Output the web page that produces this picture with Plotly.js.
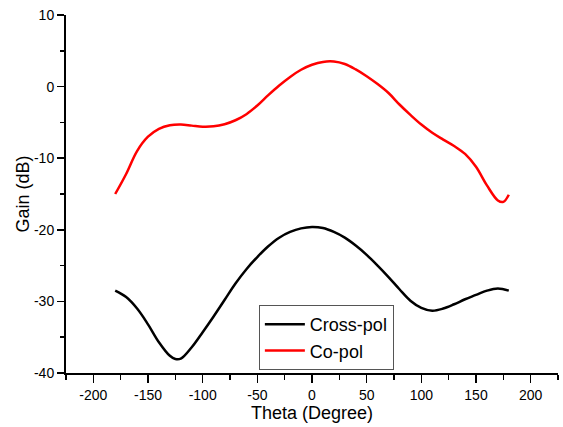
<!DOCTYPE html>
<html>
<head>
<meta charset="utf-8">
<script src="https://cdn.plot.ly/plotly-3.0.1.min.js"></script>
<style>html,body{margin:0;padding:0;background:#fff;}#chart{width:563px;height:427px;}</style>
</head>
<body>
<div id="chart"></div>
<script>
// Cross-pol (black)
var thetaCross = [-180,-170,-160,-150,-140,-130,-125,-120,-110,-100,-90,-80,-70,-60,-50,-40,-30,-20,-10,0,10,20,30,40,50,60,70,80,90,100,110,120,130,140,150,160,170,180];
var gainCross  = [-28.5,-29.4,-31.0,-33.2,-35.7,-37.6,-38.05,-38.0,-36.4,-34.3,-32.1,-29.8,-27.5,-25.5,-23.8,-22.3,-21.1,-20.3,-19.8,-19.6,-19.75,-20.3,-21.1,-22.2,-23.5,-25.0,-26.6,-28.3,-29.9,-30.9,-31.3,-31.0,-30.4,-29.7,-29.1,-28.5,-28.2,-28.5];
// Co-pol (red)
var thetaCo = [-180,-170,-160,-150,-140,-130,-120,-110,-100,-90,-80,-70,-60,-50,-40,-30,-20,-10,0,10,20,30,40,50,60,70,80,90,100,110,120,130,140,150,160,170,175,180];
var gainCo  = [-15.0,-12.2,-9.0,-7.0,-5.9,-5.4,-5.3,-5.45,-5.6,-5.55,-5.25,-4.7,-3.85,-2.65,-1.2,0.15,1.35,2.35,3.05,3.45,3.5,3.15,2.4,1.45,0.35,-0.9,-2.5,-3.95,-5.3,-6.45,-7.4,-8.3,-9.4,-11.2,-13.8,-15.9,-16.1,-15.1];

var seriesNames = ['Cross-pol', 'Co-pol'];
var xTickVals = [-200,-150,-100,-50,0,50,100,150,200];
var yTickVals = [-40,-30,-20,-10,0,10];

var font = 'Arial, "Liberation Sans", sans-serif';

var traces = [
  {x: thetaCross, y: gainCross, name: seriesNames[0], mode: 'lines',
   line: {color: '#000000', width: 2.5, shape: 'spline', smoothing: 1}},
  {x: thetaCo, y: gainCo, name: seriesNames[1], mode: 'lines',
   line: {color: '#ff0000', width: 2.5, shape: 'spline', smoothing: 1}}
];

var layout = {
  width: 563, height: 427,
  margin: {l: 66, r: 5, t: 15, b: 54},
  paper_bgcolor: '#ffffff', plot_bgcolor: '#ffffff',
  font: {family: font, color: '#000', size: 14},
  showlegend: true,
  legend: {x: 0.392, y: 0.19, xanchor: 'left', yanchor: 'top',
           bordercolor: '#555', borderwidth: 1, bgcolor: '#fff',
           font: {family: font, size: 18, color: '#000'},
           tracegroupgap: 0, itemwidth: 40},
  xaxis: {
    range: [-225, 225], tickvals: xTickVals, ticktext: xTickVals.map(String),
    showgrid: false, zeroline: false, showline: true, linecolor: '#000', linewidth: 2,
    ticks: 'outside', ticklen: 8, tickwidth: 1.5, tickcolor: '#000',
    minor: {dtick: 25, tick0: 0, ticks: 'outside', ticklen: 5, tickwidth: 1.5, tickcolor: '#000', showgrid: false},
    tickfont: {family: font, size: 14, color: '#000'},
    title: {text: 'Theta (Degree)', font: {family: font, size: 18, color: '#000'}, standoff: 5}
  },
  yaxis: {
    range: [-40, 10], tickvals: yTickVals, ticktext: yTickVals.map(String),
    showgrid: false, zeroline: false, showline: true, linecolor: '#000', linewidth: 2,
    ticks: 'outside', ticklen: 7, tickwidth: 1.5, tickcolor: '#000',
    minor: {dtick: 5, tick0: 0, ticks: 'outside', ticklen: 4, tickwidth: 1.5, tickcolor: '#000', showgrid: false},
    tickfont: {family: font, size: 14, color: '#000'},
    title: {text: 'Gain (dB)', font: {family: font, size: 18, color: '#000'}, standoff: 0}
  }
};

Plotly.newPlot('chart', traces, layout, {displayModeBar: false, staticPlot: true});
</script>
</body>
</html>
